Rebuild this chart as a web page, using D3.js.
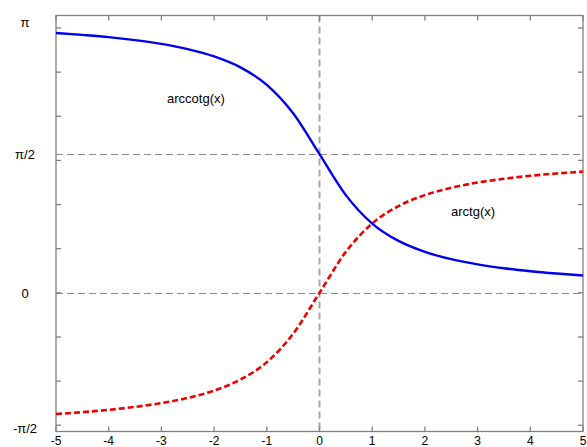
<!DOCTYPE html>
<html>
<head>
<meta charset="utf-8">
<script src="https://cdn.jsdelivr.net/npm/d3@7"></script>
<style>
  body { margin: 0; background: #fff; }
  text { font-family: Arial, "Liberation Sans", sans-serif; }
</style>
</head>
<body>
<svg id="chart" width="587" height="447"></svg>
<script>
// sample points
var xs     = [-5, -4.5, -4, -3.5, -3, -2.5, -2, -1.5, -1, -0.5, 0, 0.5, 1, 1.5, 2, 2.5, 3, 3.5, 4, 4.5, 5];
var arctg  = [-1.373, -1.352, -1.326, -1.292, -1.249, -1.190, -1.107, -0.983, -0.785, -0.464, 0,
               0.464, 0.785, 0.983, 1.107, 1.190, 1.249, 1.292, 1.326, 1.352, 1.373];
var arccotg = [2.944, 2.922, 2.897, 2.863, 2.820, 2.761, 2.678, 2.554, 2.356, 2.034, 1.571,
               1.107, 0.785, 0.588, 0.464, 0.381, 0.322, 0.278, 0.245, 0.219, 0.197];
var xTicks = [-5, -4, -3, -2, -1, 0, 1, 2, 3, 4, 5];
var yTicks = [-1.5, -1, -0.5, 0, 0.5, 1, 1.5, 2, 2.5, 3];
var yLabels = [["-\u03c0/2", -Math.PI/2], ["0", 0], ["\u03c0/2", Math.PI/2], ["\u03c0", Math.PI]];
var refY = [0, Math.PI/2];

(function() {
var svg = d3.select("#chart");
var pLeft = 56, pRight = 583, pTop = 15.5, pBottom = 431.5;

var x = d3.scaleLinear().domain([-5, 5]).range([pLeft, pRight]);
var y = d3.scaleLinear().domain([-Math.PI/2, Math.PI]).range([pBottom, pTop]);

// dashed reference lines
var ref = svg.append("g").attr("stroke", "#8c8c8c").attr("stroke-width", 1.2).attr("stroke-dasharray", "7,4");
refY.forEach(function(v) {
    ref.append("line").attr("x1", pLeft).attr("x2", pRight).attr("y1", Math.round(y(v)) + 0.5).attr("y2", Math.round(y(v)) + 0.5);
});
ref.append("line").attr("x1", x(0)).attr("x2", x(0)).attr("y1", pTop).attr("y2", pBottom)
    .attr("stroke", "#a8a8a8").attr("stroke-width", 2);

// frame + ticks
var frame = svg.append("g").attr("stroke", "#808080").attr("stroke-width", 1.3).attr("fill", "none");
frame.append("rect").attr("x", pLeft).attr("y", pTop).attr("width", pRight - pLeft).attr("height", pBottom - pTop);
xTicks.forEach(function(t) {
    frame.append("line").attr("x1", x(t)).attr("x2", x(t)).attr("y1", pBottom).attr("y2", pBottom - 5);
    frame.append("line").attr("x1", x(t)).attr("x2", x(t)).attr("y1", pTop).attr("y2", pTop + 5);
});
yTicks.forEach(function(t) {
    frame.append("line").attr("x1", pLeft).attr("x2", pLeft + 5).attr("y1", y(t)).attr("y2", y(t));
    frame.append("line").attr("x1", pRight).attr("x2", pRight - 5).attr("y1", y(t)).attr("y2", y(t));
});

// tick labels
svg.append("g").selectAll("text").data(xTicks).enter().append("text")
    .attr("x", function(d) { return x(d); })
    .attr("y", 445)
    .attr("text-anchor", "middle")
    .style("font-size", "12px")
    .text(function(d) { return d; });

svg.append("g").selectAll("text").data(yLabels).enter().append("text")
    .attr("x", 25)
    .attr("y", function(d) { return Math.min(Math.max(y(d[1]) + 5, 27), 433); })
    .attr("text-anchor", "middle")
    .style("font-size", "13px")
    .text(function(d) { return d[0]; });

// curves
var line = d3.line().curve(d3.curveMonotoneX)
    .x(function(d) { return x(d[0]); })
    .y(function(d) { return y(d[1]); });

svg.append("path")
    .attr("d", line(d3.zip(xs, arctg)))
    .attr("fill", "none").attr("stroke", "#ee0000").attr("stroke-width", 2.6)
    .attr("stroke-dasharray", "6,3");

svg.append("path")
    .attr("d", line(d3.zip(xs, arccotg)))
    .attr("fill", "none").attr("stroke", "#0000ee").attr("stroke-width", 2.4);

// curve labels
svg.append("text").attr("x", 167).attr("y", 103).style("font-size", "13px").text("arccotg(x)");
svg.append("text").attr("x", 451).attr("y", 216).style("font-size", "13px").text("arctg(x)");
})();
</script>
</body>
</html>
